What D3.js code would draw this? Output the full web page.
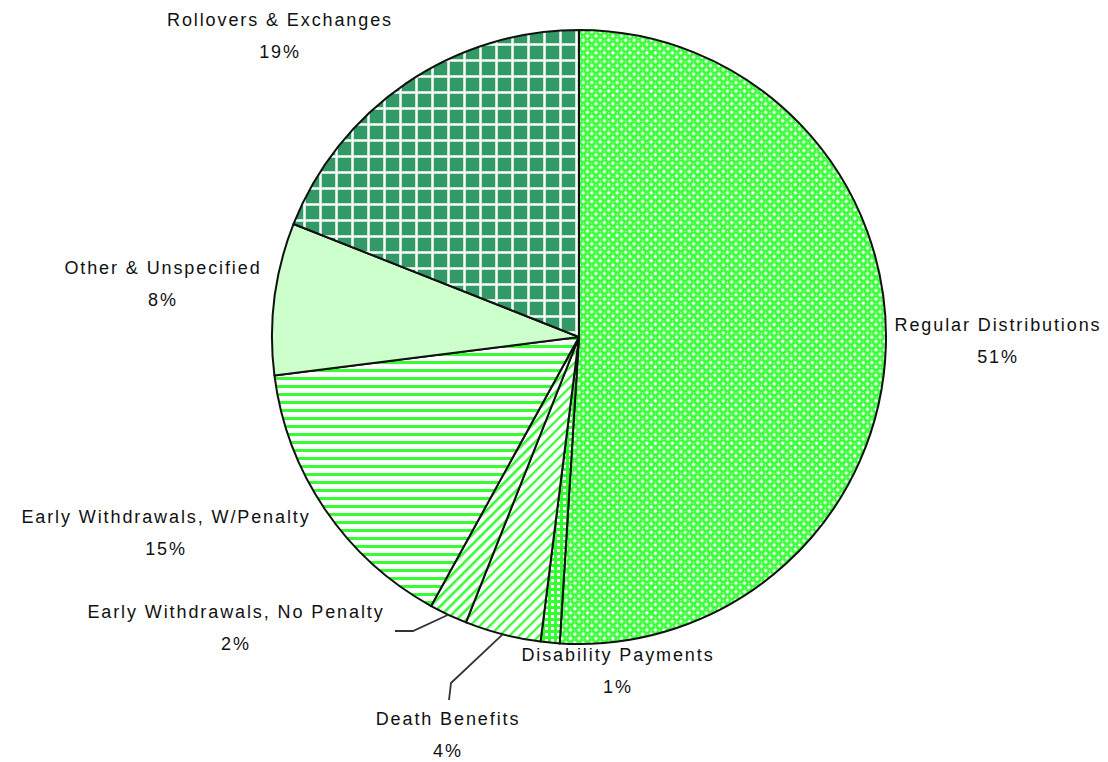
<!DOCTYPE html>
<html>
<head>
<meta charset="utf-8">
<script src="https://cdn.jsdelivr.net/npm/d3@7/dist/d3.min.js"></script>
<style>
  html, body { margin: 0; padding: 0; background: #ffffff; }
  svg { display: block; }
  text { font-family: "Liberation Sans", Arial, sans-serif; font-size: 18px; fill: #111111; letter-spacing: 1.9px; }
</style>
</head>
<body>
<svg id="chart" width="1108" height="762"></svg>
<script>
// Distribution categories, in clockwise order starting at 12 o'clock
const categories = [
  "Regular Distributions",
  "Disability Payments",
  "Death Benefits",
  "Early Withdrawals, No Penalty",
  "Early Withdrawals, W/Penalty",
  "Other & Unspecified",
  "Rollovers & Exchanges"
];
const shares = [51, 1, 4, 2, 15, 8, 19];
const percentLabels = ["51%", "1%", "4%", "2%", "15%", "8%", "19%"];
const fillIds = ["pDots", "pGrid", "pDiagThin", "pDiag", "pHoriz", "solidOther", "pTartan"];

// Label anchors (centre of the first text line) and optional leader bends
const labelAnchors = [
  [998, 325], [618, 655], [448, 719], [236, 612], [166, 517], [163, 268], [280, 20]
];
const leaderBends = [null, null, [[449, 700], [451, 683]], [[395, 631], [413, 631]], null, null, null];

const width = 1108, height = 762;
const cx = 579, cy = 337, radius = 307;
const lineGap = 32;

const svg = d3.select("#chart");
const defs = svg.append("defs");

// Fill patterns
function addPattern(id, w, h, transform, draw, x = 0, y = 0) {
  const p = defs.append("pattern")
    .attr("id", id)
    .attr("patternUnits", "userSpaceOnUse")
    .attr("width", w).attr("height", h)
    .attr("x", x).attr("y", y);
  if (transform) p.attr("patternTransform", transform);
  draw(p);
}

const green = "#33ff33";

addPattern("pDots", 6, 6, "rotate(45)", p => {
  p.append("rect").attr("width", 6).attr("height", 6).attr("fill", green);
  p.append("rect").attr("x", 1.6).attr("y", 1.6).attr("width", 3).attr("height", 3).attr("fill", "#ffffff");
  p.append("rect").attr("x", 0).attr("y", 0).attr("width", 1).attr("height", 1).attr("fill", "#ffffff");
});

addPattern("pTartan", 16, 16, null, p => {
  p.append("rect").attr("width", 16).attr("height", 16).attr("fill", "#339966");
  p.append("rect").attr("x", 0).attr("y", 0).attr("width", 3).attr("height", 16).attr("fill", "#b9e3c8");
  p.append("rect").attr("x", 0).attr("y", 0).attr("width", 16).attr("height", 3).attr("fill", "#b9e3c8");
  p.append("rect").attr("x", 0.8).attr("y", 0).attr("width", 1.4).attr("height", 16).attr("fill", "#ffffff");
  p.append("rect").attr("x", 0).attr("y", 0.8).attr("width", 16).attr("height", 1.4).attr("fill", "#ffffff");
}, 12, 10);

addPattern("pHoriz", 8, 8, null, p => {
  p.append("rect").attr("width", 8).attr("height", 8).attr("fill", "#ffffff");
  p.append("rect").attr("y", 0).attr("width", 8).attr("height", 3).attr("fill", green);
});

addPattern("pDiag", 7, 7, "rotate(45)", p => {
  p.append("rect").attr("width", 7).attr("height", 7).attr("fill", "#ffffff");
  p.append("rect").attr("x", 0).attr("width", 2.6).attr("height", 7).attr("fill", green);
});

addPattern("pDiagThin", 7, 7, "rotate(45)", p => {
  p.append("rect").attr("width", 7).attr("height", 7).attr("fill", "#ffffff");
  p.append("rect").attr("x", 0).attr("width", 2.2).attr("height", 7).attr("fill", green);
});

addPattern("pGrid", 6, 6, null, p => {
  p.append("rect").attr("width", 6).attr("height", 6).attr("fill", green);
  p.append("rect").attr("x", 2).attr("y", 2).attr("width", 3).attr("height", 3).attr("fill", "#ffffff");
});

const fills = {
  solidOther: "#ccffcc"
};
function fillFor(id) { return fills[id] || `url(#${id})`; }

const data = categories.map((c, i) => ({
  name: c, value: shares[i], pct: percentLabels[i], fill: fillIds[i],
  anchor: labelAnchors[i], bend: leaderBends[i]
}));

const pie = d3.pie().value(d => d.value).sort(null);
const arc = d3.arc().innerRadius(0).outerRadius(radius);
const arcs = pie(data);

const g = svg.append("g").attr("transform", `translate(${cx},${cy})`);

g.selectAll("path.slice")
  .data(arcs)
  .join("path")
  .attr("class", "slice")
  .attr("d", arc)
  .attr("fill", d => fillFor(d.data.fill))
  .attr("stroke", "#111111")
  .attr("stroke-width", 2)
  .attr("stroke-linejoin", "round");

// Leader lines from the arc midpoint to the label
const edgeArc = d3.arc().innerRadius(radius).outerRadius(radius);
arcs.filter(d => d.data.bend).forEach(d => {
  const [ex, ey] = edgeArc.centroid(d);
  const pts = d.data.bend.concat([[cx + ex, cy + ey]]);
  svg.append("path")
    .attr("d", d3.line()(pts))
    .attr("fill", "none")
    .attr("stroke", "#333333")
    .attr("stroke-width", 1.8);
});

// Category and percentage labels
const labels = svg.selectAll("g.label")
  .data(arcs)
  .join("g")
  .attr("class", "label")
  .attr("transform", d => `translate(${d.data.anchor[0]},${d.data.anchor[1]})`);

labels.append("text")
  .attr("text-anchor", "middle")
  .attr("dominant-baseline", "central")
  .text(d => d.data.name);

labels.append("text")
  .attr("text-anchor", "middle")
  .attr("dominant-baseline", "central")
  .attr("y", lineGap)
  .text(d => d.data.pct);
</script>
</body>
</html>
